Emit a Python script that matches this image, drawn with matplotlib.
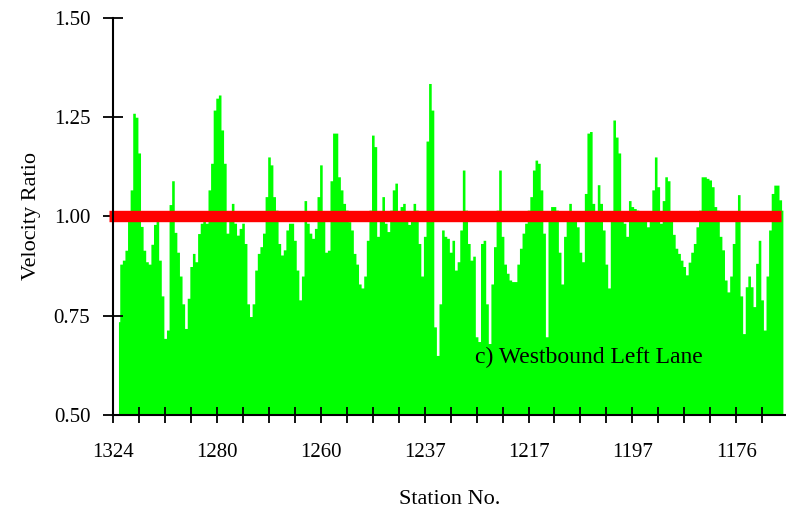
import numpy as np
import matplotlib
matplotlib.use('Agg')
import matplotlib.pyplot as plt

# velocity ratio per detector position, westbound left lane
ratio = [
    0.735, 0.88, 0.89, 0.915, 0.995, 1.067, 1.26, 1.25,
    1.16, 0.975, 0.915, 0.886, 0.88, 0.93, 0.98, 0.99, 0.89, 0.80,
    0.693, 0.714, 1.03, 1.09, 0.96, 0.91, 0.85, 0.78, 0.718, 0.794,
    0.874, 0.907, 0.886, 0.957, 0.983, 1.0, 0.983, 1.067, 1.134, 1.268,
    1.298, 1.306, 1.218, 1.134, 0.958, 0.99, 1.033, 0.983, 0.953, 0.97,
    0.983, 0.932, 0.78, 0.748, 0.78, 0.865, 0.907, 0.924, 0.958, 1.05,
    1.15, 1.13, 1.05, 1.016, 0.932, 0.903, 0.916, 0.966, 0.983, 0.983,
    0.94, 0.865, 0.79, 0.85, 1.04, 0.983, 0.958, 0.945, 0.97, 1.05,
    1.13, 0.99, 0.91, 0.915, 1.09, 1.21, 1.21, 1.1, 1.067, 1.033,
    1.016, 0.987, 0.966, 0.907, 0.88, 0.83, 0.82, 0.85, 0.94, 1.016,
    1.205, 1.176, 0.95, 1.008, 1.05, 0.983, 0.962, 1.016, 1.067, 1.084,
    1.008, 1.025, 1.033, 1.0, 0.98, 1.0, 1.033, 1.016, 0.932, 0.85,
    0.95, 1.19, 1.335, 1.268, 0.722, 0.65, 0.78, 0.966, 0.95, 0.945,
    0.91, 0.94, 0.865, 0.886, 0.966, 1.117, 1.016, 0.932, 0.89, 0.9,
    0.697, 0.685, 0.932, 0.94, 0.78, 0.68, 0.83, 0.924, 1.016, 1.117,
    0.95, 0.88, 0.857, 0.84, 0.836, 0.836, 0.88, 0.92, 0.958, 0.983,
    1.016, 1.05, 1.117, 1.142, 1.134, 1.067, 0.958, 0.697, 1.0, 1.025,
    1.025, 1.016, 0.91, 0.83, 0.95, 1.0, 1.033, 1.0, 0.99, 0.974,
    0.91, 0.886, 1.058, 1.21, 1.214, 1.033, 1.0, 1.08, 1.033, 0.966,
    0.88, 0.82, 1.0, 1.243, 1.2, 1.16, 0.99, 0.983, 0.95, 1.04,
    1.025, 1.02, 1.016, 1.0, 1.0, 1.0, 0.974, 1.0, 1.067, 1.15,
    1.075, 0.983, 1.04, 1.1, 1.09, 0.99, 0.955, 0.92, 0.907, 0.89,
    0.874, 0.853, 0.885, 0.91, 0.932, 0.974, 1.016, 1.1, 1.1, 1.096,
    1.092, 1.075, 1.025, 1.016, 0.95, 0.916, 0.84, 0.81, 0.85, 0.932,
    1.0, 1.055, 0.8, 0.705, 0.823, 0.85, 0.823, 0.773, 0.882, 0.94,
    0.79, 0.714, 0.85, 0.966, 1.058, 1.079, 1.079, 1.042, 1.016,
]
first_pos = 2
stations = ['1324', '1280', '1260', '1237', '1217', '1197', '1176']
station_step = 40   # positions between labelled stations
minor_step = 10
y_ticks = [0.50, 0.75, 1.00, 1.25, 1.50]
threshold = 1.0

plt.rcParams['font.family'] = ['Liberation Serif', 'DejaVu Serif']

fig = plt.figure(figsize=(7.86, 5.15), dpi=100)
ax = fig.add_axes([0.1441, 0.1942, 0.8559, 0.7709])

pos = np.arange(first_pos, first_pos + len(ratio))
ax.fill_between(pos, 0.5, ratio, step='mid', color='#00ff00', lw=0, zorder=1)

# reference line at ratio 1.0
ax.hlines(threshold, -1.6, 257.3, colors='#ff0000', lw=8.2, zorder=3, clip_on=False)

ax.set_xlim(0, 259.2)
ax.set_ylim(0.5, 1.5)

ax.set_xticks(np.arange(0, len(stations) * station_step, station_step))
ax.set_xticklabels(stations)
ax.set_xticks(np.arange(0, 260, minor_step), minor=True)
ax.set_yticks(y_ticks)
ax.set_yticklabels(['%.2f' % v for v in y_ticks])

for s in ['top', 'right']:
    ax.spines[s].set_visible(False)
for s in ['left', 'bottom']:
    ax.spines[s].set_linewidth(1.5)
    ax.spines[s].set_zorder(4)

ax.tick_params(axis='x', which='both', direction='inout', length=11, width=1.3)
ax.tick_params(axis='x', which='major', labelsize=15, pad=15)
ax.tick_params(axis='y', direction='inout', length=15, width=1.3, labelsize=15, pad=9)

ax.set_xlabel('Station No.', fontsize=16, labelpad=20)
ax.set_ylabel('Velocity Ratio', fontsize=16, labelpad=9)

ax.text(139.4, 0.644, 'c) Westbound Left Lane', fontsize=17, ha='left', va='center', zorder=5)

fig.savefig('out.png', dpi=100)
